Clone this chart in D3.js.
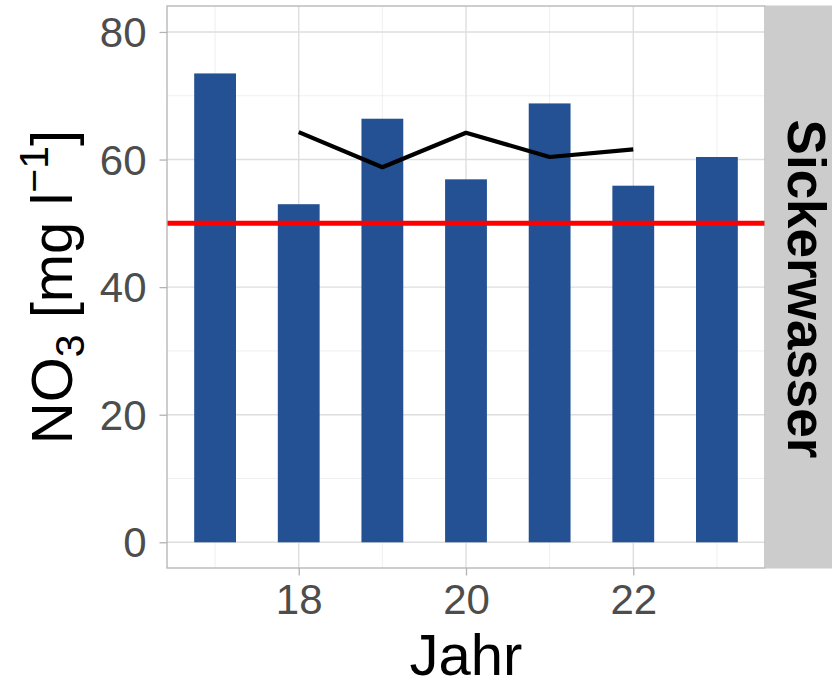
<!DOCTYPE html>
<html>
<head>
<meta charset="utf-8">
<script src="https://cdn.jsdelivr.net/npm/d3@7"></script>
<style>
  html, body { margin: 0; padding: 0; background: #fff; }
  svg { display: block; font-family: "Liberation Sans", Arial, sans-serif; }
</style>
</head>
<body>
<svg id="chart" width="832" height="685"></svg>
<script>
// Annual nitrate concentration in seepage water
const years = [17, 18, 19, 20, 21, 22, 23];
const nitrate = [73.5, 53.0, 66.4, 56.9, 68.8, 55.9, 60.4];

// Comparison series drawn as a line
const lineYears = [18, 19, 20, 21, 22];
const lineValues = [64.3, 58.8, 64.2, 60.4, 61.6];

// Limit value
const threshold = 50;

const xTicks = [18, 20, 22];
const xMinor = [17, 19, 21, 23];
const yTicks = [0, 20, 40, 60, 80];
const yMinor = [10, 30, 50, 70];
const stripLabel = "Sickerwasser";
const xTitle = "Jahr";

const panel = { left: 167, right: 765, top: 6, bottom: 568 };
const svg = d3.select("#chart");

const x = d3.scaleLinear().domain([16.425, 23.575]).range([panel.left, panel.right]);
const y = d3.scaleLinear().domain([-4.03, 84.07]).range([panel.bottom, panel.top]);
const barWidth = x(17.5) - x(17);

// panel background
svg.append("rect")
  .attr("x", panel.left).attr("y", panel.top)
  .attr("width", panel.right - panel.left).attr("height", panel.bottom - panel.top)
  .attr("fill", "#fff");

// grid lines
const grid = svg.append("g");
grid.selectAll(".ymin").data(yMinor).join("line")
  .attr("x1", panel.left).attr("x2", panel.right)
  .attr("y1", d => y(d)).attr("y2", d => y(d))
  .attr("stroke", "#EBEBEB").attr("stroke-width", 0.8);
grid.selectAll(".xmin").data(xMinor).join("line")
  .attr("y1", panel.top).attr("y2", panel.bottom)
  .attr("x1", d => x(d)).attr("x2", d => x(d))
  .attr("stroke", "#EBEBEB").attr("stroke-width", 0.8);
grid.selectAll(".ymaj").data(yTicks).join("line")
  .attr("x1", panel.left).attr("x2", panel.right)
  .attr("y1", d => y(d)).attr("y2", d => y(d))
  .attr("stroke", "#DEDEDE").attr("stroke-width", 1.4);
grid.selectAll(".xmaj").data(xTicks).join("line")
  .attr("y1", panel.top).attr("y2", panel.bottom)
  .attr("x1", d => x(d)).attr("x2", d => x(d))
  .attr("stroke", "#DEDEDE").attr("stroke-width", 1.4);

// bars
svg.append("g").selectAll("rect").data(years).join("rect")
  .attr("x", d => x(d) - barWidth / 2)
  .attr("width", barWidth)
  .attr("y", (d, i) => y(nitrate[i]))
  .attr("height", (d, i) => y(0) - y(nitrate[i]))
  .attr("fill", "#245193");

// limit line
svg.append("line")
  .attr("x1", panel.left).attr("x2", panel.right)
  .attr("y1", y(threshold)).attr("y2", y(threshold))
  .attr("stroke", "#FF0000").attr("stroke-width", 5);

// comparison line
const line = d3.line().x(d => x(d[0])).y(d => y(d[1]));
svg.append("path")
  .datum(lineYears.map((d, i) => [d, lineValues[i]]))
  .attr("d", line)
  .attr("fill", "none")
  .attr("stroke", "#000")
  .attr("stroke-width", 4.2)
  .attr("stroke-linejoin", "round");

// panel border
svg.append("rect")
  .attr("x", panel.left).attr("y", panel.top)
  .attr("width", panel.right - panel.left).attr("height", panel.bottom - panel.top)
  .attr("fill", "none").attr("stroke", "#B3B3B3").attr("stroke-width", 1.3);

// strip
svg.append("rect")
  .attr("x", panel.right + 0.5).attr("y", panel.top - 0.5)
  .attr("width", 832 - panel.right).attr("height", panel.bottom - panel.top + 1)
  .attr("fill", "#CCCCCC");
svg.append("text")
  .attr("transform", `translate(788,${(panel.top + panel.bottom) / 2 + 2}) rotate(90)`)
  .attr("text-anchor", "middle")
  .attr("font-size", 53).attr("font-weight", "bold")
  .attr("fill", "#000")
  .text(stripLabel);

// axes
const xAxis = svg.append("g")
  .attr("transform", `translate(0,${panel.bottom})`)
  .call(d3.axisBottom(x).tickValues(xTicks).tickSize(7.5).tickPadding(8).tickFormat(d3.format("d")));
const yAxis = svg.append("g")
  .attr("transform", `translate(${panel.left},0)`)
  .call(d3.axisLeft(y).tickValues(yTicks).tickSize(7.5).tickPadding(13).tickFormat(d3.format("d")));
[xAxis, yAxis].forEach(a => {
  a.select(".domain").remove();
  a.selectAll(".tick line").attr("stroke", "#B3B3B3").attr("stroke-width", 1.3);
  a.selectAll(".tick text")
    .attr("fill", "#4D4D4D")
    .attr("font-size", 42)
    .attr("font-family", "Liberation Sans, Arial, sans-serif");
});
xAxis.selectAll(".tick text").attr("dy", null).attr("y", 46);
yAxis.selectAll(".tick text").attr("dy", "0.35em");

// axis titles
svg.append("text")
  .attr("x", (panel.left + panel.right) / 2).attr("y", 675)
  .attr("text-anchor", "middle")
  .attr("font-size", 58).attr("fill", "#000")
  .text(xTitle);

const yTitle = svg.append("text")
  .attr("transform", `translate(72,${(panel.top + panel.bottom) / 2}) rotate(-90)`)
  .attr("text-anchor", "middle")
  .attr("font-size", 58).attr("fill", "#000");
yTitle.append("tspan").text("NO");
yTitle.append("tspan").attr("font-size", 41).attr("dy", 12).text("3");
yTitle.append("tspan").attr("dy", -12).text(" [mg l");
yTitle.append("tspan").attr("font-size", 41).attr("dy", -24).text("\u22121");
yTitle.append("tspan").attr("dy", 24).text("]");
</script>
</body>
</html>
